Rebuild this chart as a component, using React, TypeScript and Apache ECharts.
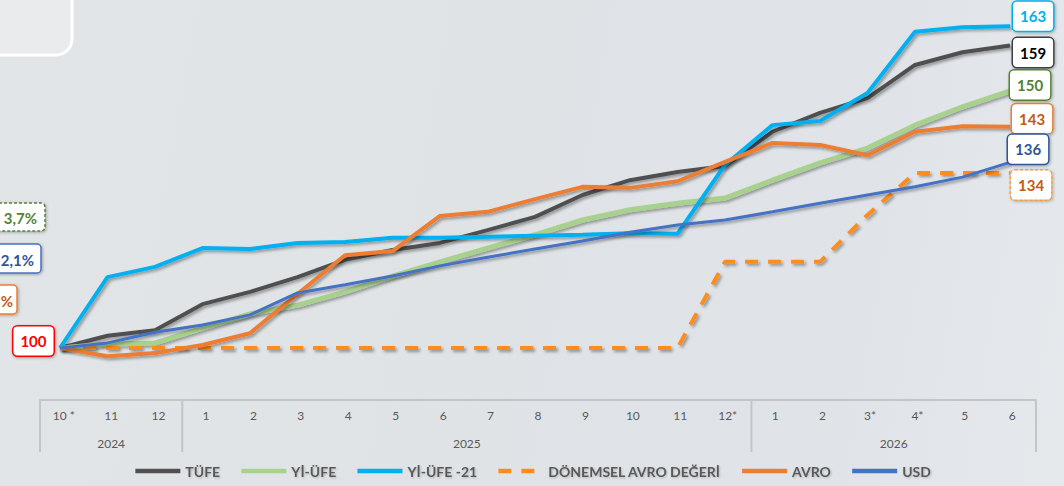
import React, { useEffect, useRef } from "react";
import * as echarts from "echarts";

// ---------- data ----------
const MONTHS = ["10 *", "11", "12", "1", "2", "3", "4", "5", "6", "7", "8", "9", "10", "11", "12*", "1", "2", "3*", "4*", "5", "6"];
const YEARS = ["2024", "2025", "2026"];
const YEAR_SPANS = [3, 12, 6];

const TUFE = [100, 102.4, 103.5, 108.6, 111.0, 113.9, 117.3, 119.2, 120.6, 123.1, 125.7, 130.0, 132.9, 134.5, 135.7, 142.4, 146.1, 149.0, 155.5, 158.0, 159.3];
const YIUFE = [100, 100.8, 101.0, 103.9, 106.7, 108.4, 111.0, 114.1, 116.9, 119.6, 122.2, 125.1, 127.1, 128.4, 129.4, 132.9, 136.3, 139.2, 143.7, 147.3, 150.4];
const YIUFE21 = [100, 113.9, 115.9, 119.6, 119.4, 120.6, 120.8, 121.6, 121.6, 121.8, 122.0, 122.2, 122.5, 122.4, 135.9, 143.7, 144.5, 150.0, 162.0, 162.9, 163.1];
const DONEMSEL = [100, 100, 100, 100, 100, 100, 100, 100, 100, 100, 100, 100, 100, 100, 116.9, 116.9, 116.9, 126.1, 134.3, 134.3, 134.3];
const AVRO = [100, 98.4, 99.0, 100.6, 102.9, 110.6, 118.2, 119.0, 125.9, 126.7, 129.2, 131.6, 131.4, 132.7, 136.5, 140.2, 139.8, 137.8, 142.4, 143.5, 143.4];
const USD = [100, 101.0, 103.1, 104.5, 106.5, 110.8, 112.4, 114.1, 116.1, 117.8, 119.4, 121.0, 122.7, 124.1, 125.1, 126.7, 128.4, 130.0, 131.6, 133.5, 136.4];

const NAMES = ["TÜFE", "Yİ-ÜFE", "Yİ-ÜFE -21", "DÖNEMSEL AVRO DEĞERİ", "AVRO", "USD"];
const SIDE_NOTES = ["3,7%", "2,1%", "%"];

// ---------- layout / style ----------
const W = 1064;
const H = 486;
const FONT = "Lato, 'Open Sans', sans-serif";
const LBL_LEFT = 40;
const LBL_RIGHT = 1036;
const LBL_TOP = 400;
const LBL_BOTTOM = 452;
const AXIS_GREY = "#c3c6c9";

const shadow = {
  shadowColor: "rgba(0,0,0,0.35)",
  shadowBlur: 3,
  shadowOffsetX: 2,
  shadowOffsetY: 2,
};

function endLabel(textColor: string, borderColor: string, offset: number[], dashed = false) {
  return {
    show: true,
    formatter: (p: any) => {
      const v = Array.isArray(p.value) ? p.value[p.value.length - 1] : p.value;
      return String(Math.round(Number(v)));
    },
    distance: 0,
    offset,
    color: textColor,
    fontFamily: FONT,
    fontWeight: "bold",
    fontSize: 15,
    lineHeight: 17,
    backgroundColor: "#ffffff",
    borderColor,
    borderWidth: 1.5,
    borderType: dashed ? [3, 2] : "solid",
    borderRadius: 4,
    padding: [6, 7],
    shadowColor: "rgba(0,0,0,0.3)",
    shadowBlur: 3,
    shadowOffsetX: 1,
    shadowOffsetY: 1,
  };
}

function lineSeries(name: string, data: number[], color: string, width: number, label: any, dashed = false, extra: any = {}) {
  return {
    type: "line",
    name,
    data,
    xAxisIndex: 0,
    yAxisIndex: 0,
    symbol: "none",
    smooth: false,
    lineStyle: { color, width, type: dashed ? [13, 10] : "solid", cap: "butt", ...shadow },
    itemStyle: { color },
    endLabel: label,
    ...extra,
  };
}

export default function App() {
  const ref = useRef<HTMLDivElement>(null);

  useEffect(() => {
    if (!ref.current) return;
    const chart = echarts.init(ref.current, undefined, { renderer: "svg" });

    const bandW = (LBL_RIGHT - LBL_LEFT) / MONTHS.length;
    const graphics: any[] = [];

    // top-left decorative rounded box
    graphics.push({
      type: "rect",
      shape: { x: -30, y: -30, width: 102, height: 85, r: 16 },
      style: { fill: "rgba(255,255,255,0.25)", stroke: "#ffffff", lineWidth: 3 },
      silent: true,
    });

    // year separators and year labels
    let acc = 0;
    const bounds = [0];
    YEAR_SPANS.forEach((s) => {
      acc += s;
      bounds.push(acc);
    });
    bounds.forEach((b) => {
      const x = LBL_LEFT + b * bandW;
      graphics.push({
        type: "rect",
        shape: { x: x - 1, y: LBL_TOP, width: 2, height: LBL_BOTTOM - LBL_TOP },
        style: { fill: AXIS_GREY },
        silent: true,
      });
    });
    YEARS.forEach((y, i) => {
      const cx = LBL_LEFT + (bounds[i] + YEAR_SPANS[i] / 2) * bandW;
      graphics.push({
        type: "text",
        x: cx,
        y: 443,
        style: { text: y, fill: "#595959", font: `12px ${FONT}`, align: "center", verticalAlign: "middle" },
        silent: true,
      });
    });

    // left side partial annotation boxes
    const noteBoxes = [
      { y: 203, h: 28, right: 45, textRight: 37, color: "#548235", border: "#548235", dashed: true },
      { y: 244, h: 29, right: 41, textRight: 34, color: "#2f5597", border: "#4472c4", dashed: false },
      { y: 285, h: 29, right: 17, textRight: 13, color: "#c55a11", border: "#ed7d31", dashed: false },
    ];
    noteBoxes.forEach((b, i) => {
      graphics.push({
        type: "rect",
        shape: { x: -20, y: b.y, width: b.right + 20, height: b.h, r: 4 },
        style: {
          fill: "#ffffff",
          stroke: b.border,
          lineWidth: 1.5,
          lineDash: b.dashed ? [3, 2] : null,
          shadowColor: "rgba(0,0,0,0.3)",
          shadowBlur: 3,
          shadowOffsetX: 1,
          shadowOffsetY: 1,
        },
        silent: true,
      });
      graphics.push({
        type: "text",
        x: b.textRight,
        y: b.y + b.h / 2 + 1,
        style: { text: SIDE_NOTES[i], fill: b.color, font: `bold 15px ${FONT}`, align: "right", verticalAlign: "middle" },
        silent: true,
      });
    });

    chart.setOption({
      animation: false,
      backgroundColor: "transparent",
      grid: [
        { left: 60, right: W - 1010, top: 16.5, bottom: 112.5, containLabel: false },
        { left: LBL_LEFT, right: W - LBL_RIGHT, top: LBL_TOP, height: 1, containLabel: false },
      ],
      xAxis: [
        { type: "category", gridIndex: 0, data: MONTHS, boundaryGap: false, show: false },
        {
          type: "category",
          gridIndex: 1,
          data: MONTHS,
          boundaryGap: true,
          position: "top",
          axisLine: { show: true, onZero: false, lineStyle: { color: AXIS_GREY, width: 2 } },
          axisTick: { show: false },
          splitLine: { show: false },
          axisLabel: { show: false },
        },
        {
          type: "category",
          gridIndex: 1,
          data: MONTHS,
          boundaryGap: true,
          position: "bottom",
          axisLine: { show: false },
          axisTick: { show: false },
          splitLine: { show: false },
          axisLabel: { interval: 0, margin: 8, color: "#595959", fontSize: 12, fontFamily: FONT },
        },
      ],
      yAxis: [
        { type: "value", gridIndex: 0, min: 95, max: 165, show: false, splitLine: { show: false } },
        { type: "value", gridIndex: 1, show: false },
      ],
      legend: {
        data: NAMES,
        left: "center",
        top: 459,
        itemWidth: 45,
        itemHeight: 12,
        itemGap: 19,
        itemStyle: { opacity: 0 },
        lineStyle: { width: 4.5 },
        textStyle: {
          fontFamily: FONT,
          fontSize: 14,
          fontWeight: "bold",
          color: "#595959",
          textShadowColor: "rgba(0,0,0,0.2)",
          textShadowBlur: 2,
          textShadowOffsetX: 1,
          textShadowOffsetY: 1,
        },
      },
      graphic: graphics,
      series: [
        lineSeries(NAMES[0], TUFE, "#505050", 4, endLabel("#000000", "#404040", [3, 7]), false, {
          markPoint: {
            symbol: "rect",
            symbolSize: 1,
            itemStyle: { color: "rgba(0,0,0,0)" },
            label: {
              show: true,
              position: "left",
              distance: 6,
              offset: [0, -7],
              formatter: (p: any) => String(Math.round(Number(p.value))),
              color: "#ff0000",
              fontFamily: FONT,
              fontWeight: "bold",
              fontSize: 15,
              lineHeight: 17,
              backgroundColor: "#ffffff",
              borderColor: "#ff0000",
              borderWidth: 1.5,
              borderRadius: 4,
              padding: [6, 7],
              shadowColor: "rgba(0,0,0,0.3)",
              shadowBlur: 3,
              shadowOffsetX: 1,
              shadowOffsetY: 1,
            },
            data: [{ coord: [0, TUFE[0]], value: TUFE[0] }],
          },
        }),
        lineSeries(NAMES[1], YIUFE, "#a9d18e", 5, endLabel("#548235", "#548235", [0, -6])),
        lineSeries(NAMES[2], YIUFE21, "#00b0f0", 4, endLabel("#00b0f0", "#00b0f0", [3, -10])),
        lineSeries(NAMES[3], DONEMSEL, "#ff8c1a", 4, endLabel("#c55a11", "#ff9933", [1, 12], true), true),
        lineSeries(NAMES[4], AVRO, "#ed7d31", 4, endLabel("#c55a11", "#ed7d31", [2, -8])),
        lineSeries(NAMES[5], USD, "#4472c4", 3, endLabel("#2f5597", "#2f5597", [-2, -13])),
      ],
    });

    return () => chart.dispose();
  }, []);

  return (
    <div
      style={{
        position: "fixed",
        left: 0,
        top: 0,
        width: W,
        height: H,
        background: "linear-gradient(100deg, #e2e5e7 0%, #dfe3e6 45%, #e0e4e8 80%, #e6e9ec 100%)",
      }}
    >
      <div ref={ref} style={{ width: W, height: H }} />
    </div>
  );
}
